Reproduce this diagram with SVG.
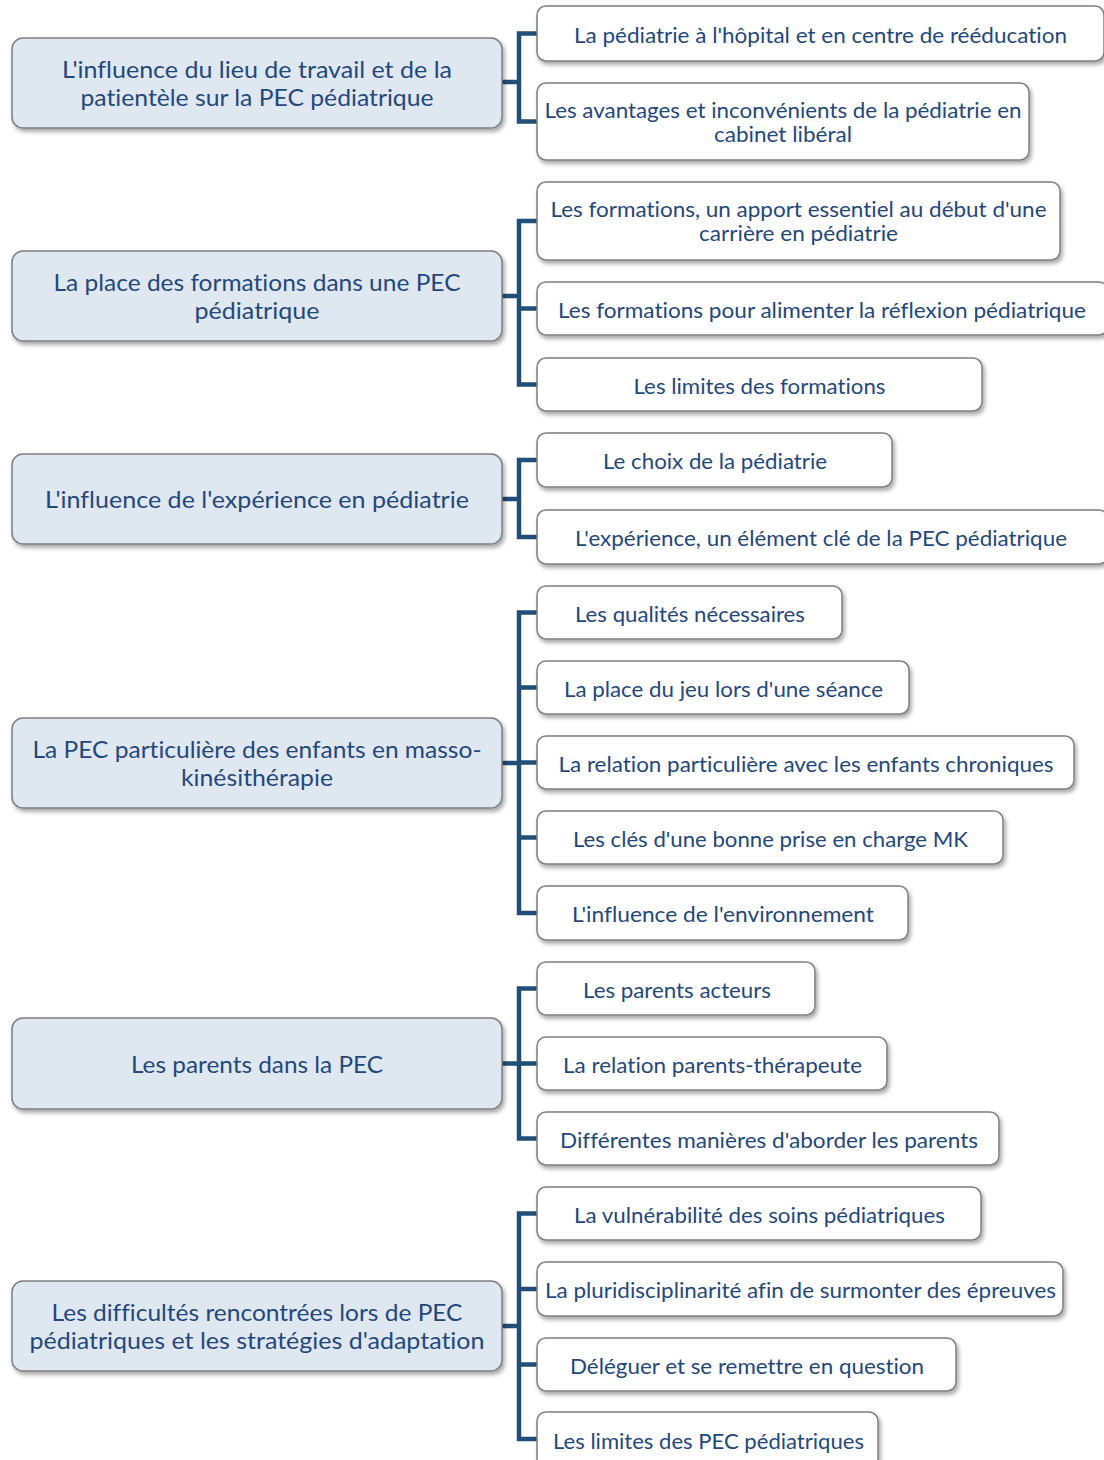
<svg xmlns="http://www.w3.org/2000/svg" width="1104" height="1460" viewBox="0 0 1104 1460">
<defs>
<filter id="sh" x="-5%" y="-20%" width="115%" height="150%">
<feDropShadow dx="2" dy="3" stdDeviation="2" flood-color="#000" flood-opacity="0.35"/>
</filter>
<style>
.p{fill:#dfe7f1;stroke:#7f7f7f;stroke-width:1.5;filter:url(#sh)}
.c{fill:#ffffff;stroke:#7f7f7f;stroke-width:1.5;filter:url(#sh)}
.tp{font-family:Lato,"Open Sans","Liberation Sans",sans-serif;font-size:23.5px;fill:#1f497d;text-anchor:middle;font-variant-ligatures:none}
.tc{font-family:Lato,"Open Sans","Liberation Sans",sans-serif;font-size:20.5px;fill:#1f497d;text-anchor:middle;font-variant-ligatures:none}
.k{fill:none;stroke:#1f4e79;stroke-width:4.5;stroke-linejoin:miter;stroke-linecap:butt}
</style>
</defs>
<rect width="1104" height="1460" fill="#ffffff"/>
<g id="connectors">
<path class="k" d="M502 82 H519 M537 33.5 H519 V121.5 H537"/>
<path class="k" d="M502 296 H519 M537 221 H519 V384.5 H537 M519 308.5 H537"/>
<path class="k" d="M502 499 H519 M537 460 H519 V537 H537"/>
<path class="k" d="M502 763 H519 M537 612.5 H519 V913 H537 M519 687.5 H537 M519 762.5 H537 M519 837.5 H537"/>
<path class="k" d="M502 1063.5 H519 M537 988.5 H519 V1138.5 H537 M519 1063.5 H537"/>
<path class="k" d="M502 1326 H519 M537 1213.5 H519 V1439 H537 M519 1289 H537 M519 1364.5 H537"/>
</g>
<g id="p1"><rect class="p" x="12" y="38" width="490" height="90" rx="11"/>
<text class="tp" x="257" y="78" textLength="390" lengthAdjust="spacingAndGlyphs">L'influence du lieu de travail et de la</text>
<text class="tp" x="257" y="106" textLength="353" lengthAdjust="spacingAndGlyphs">patientèle sur la PEC pédiatrique</text></g>
<g id="p2"><rect class="p" x="12" y="251" width="490" height="90" rx="11"/>
<text class="tp" x="257" y="291" textLength="407" lengthAdjust="spacingAndGlyphs">La place des formations dans une PEC</text>
<text class="tp" x="257" y="319" textLength="125" lengthAdjust="spacingAndGlyphs">pédiatrique</text></g>
<g id="p3"><rect class="p" x="12" y="454" width="490" height="90" rx="11"/>
<text class="tp" x="257" y="508" textLength="424" lengthAdjust="spacingAndGlyphs">L'influence de l'expérience en pédiatrie</text></g>
<g id="p4"><rect class="p" x="12" y="718" width="490" height="90" rx="11"/>
<text class="tp" x="257" y="758" textLength="449" lengthAdjust="spacingAndGlyphs">La PEC particulière des enfants en masso-</text>
<text class="tp" x="257" y="786" textLength="152" lengthAdjust="spacingAndGlyphs">kinésithérapie</text></g>
<g id="p5"><rect class="p" x="12" y="1018" width="490" height="91" rx="11"/>
<text class="tp" x="257" y="1073" textLength="252" lengthAdjust="spacingAndGlyphs">Les parents dans la PEC</text></g>
<g id="p6"><rect class="p" x="12" y="1281" width="490" height="90" rx="11"/>
<text class="tp" x="257" y="1321" textLength="411" lengthAdjust="spacingAndGlyphs">Les difficultés rencontrées lors de PEC</text>
<text class="tp" x="257" y="1349" textLength="455" lengthAdjust="spacingAndGlyphs">pédiatriques et les stratégies d'adaptation</text></g>

<g id="c1"><rect class="c" x="537" y="6" width="567" height="55" rx="9"/>
<text class="tc" x="820.5" y="42.5" textLength="493" lengthAdjust="spacingAndGlyphs">La pédiatrie à l'hôpital et en centre de rééducation</text></g>
<g id="c2"><rect class="c" x="537" y="83" width="492" height="77" rx="9"/>
<text class="tc" x="783" y="117.5" textLength="477" lengthAdjust="spacingAndGlyphs">Les avantages et inconvénients de la pédiatrie en</text>
<text class="tc" x="783" y="141.5" textLength="138" lengthAdjust="spacingAndGlyphs">cabinet libéral</text></g>
<g id="c3"><rect class="c" x="537" y="182" width="523" height="78" rx="9"/>
<text class="tc" x="798.5" y="217" textLength="496" lengthAdjust="spacingAndGlyphs">Les formations, un apport essentiel au début d'une</text>
<text class="tc" x="798.5" y="241" textLength="199" lengthAdjust="spacingAndGlyphs">carrière en pédiatrie</text></g>
<g id="c4"><rect class="c" x="537" y="282" width="571" height="53" rx="9"/>
<text class="tc" x="822" y="317.5" textLength="528" lengthAdjust="spacingAndGlyphs">Les formations pour alimenter la réflexion pédiatrique</text></g>
<g id="c5"><rect class="c" x="537" y="358" width="445" height="53" rx="9"/>
<text class="tc" x="759.5" y="393.5" textLength="252" lengthAdjust="spacingAndGlyphs">Les limites des formations</text></g>
<g id="c6"><rect class="c" x="537" y="433" width="355" height="54" rx="9"/>
<text class="tc" x="715" y="469" textLength="224" lengthAdjust="spacingAndGlyphs">Le choix de la pédiatrie</text></g>
<g id="c7"><rect class="c" x="537" y="510" width="571" height="54" rx="9"/>
<text class="tc" x="821" y="546" textLength="492" lengthAdjust="spacingAndGlyphs">L'expérience, un élément clé de la PEC pédiatrique</text></g>
<g id="c8"><rect class="c" x="537" y="586" width="305" height="53" rx="9"/>
<text class="tc" x="690" y="621.5" textLength="230" lengthAdjust="spacingAndGlyphs">Les qualités nécessaires</text></g>
<g id="c9"><rect class="c" x="537" y="661" width="372" height="53" rx="9"/>
<text class="tc" x="723.5" y="696.5" textLength="319" lengthAdjust="spacingAndGlyphs">La place du jeu lors d'une séance</text></g>
<g id="c10"><rect class="c" x="537" y="736" width="537" height="53" rx="9"/>
<text class="tc" x="806" y="771.5" textLength="495" lengthAdjust="spacingAndGlyphs">La relation particulière avec les enfants chroniques</text></g>
<g id="c11"><rect class="c" x="537" y="811" width="466" height="53" rx="9"/>
<text class="tc" x="770.5" y="846.5" textLength="395" lengthAdjust="spacingAndGlyphs">Les clés d'une bonne prise en charge MK</text></g>
<g id="c12"><rect class="c" x="537" y="886" width="371" height="54" rx="9"/>
<text class="tc" x="723" y="922" textLength="302" lengthAdjust="spacingAndGlyphs">L'influence de l'environnement</text></g>
<g id="c13"><rect class="c" x="537" y="962" width="278" height="53" rx="9"/>
<text class="tc" x="677" y="997.5" textLength="188" lengthAdjust="spacingAndGlyphs">Les parents acteurs</text></g>
<g id="c14"><rect class="c" x="537" y="1037" width="350" height="53" rx="9"/>
<text class="tc" x="712.5" y="1072.5" textLength="299" lengthAdjust="spacingAndGlyphs">La relation parents-thérapeute</text></g>
<g id="c15"><rect class="c" x="537" y="1112" width="462" height="53" rx="9"/>
<text class="tc" x="769" y="1147.5" textLength="418" lengthAdjust="spacingAndGlyphs">Différentes manières d'aborder les parents</text></g>
<g id="c16"><rect class="c" x="537" y="1187" width="444" height="53" rx="9"/>
<text class="tc" x="759.5" y="1222.5" textLength="371" lengthAdjust="spacingAndGlyphs">La vulnérabilité des soins pédiatriques</text></g>
<g id="c17"><rect class="c" x="537" y="1262" width="526" height="54" rx="9"/>
<text class="tc" x="800.5" y="1298" textLength="511" lengthAdjust="spacingAndGlyphs">La pluridisciplinarité afin de surmonter des épreuves</text></g>
<g id="c18"><rect class="c" x="537" y="1338" width="419" height="53" rx="9"/>
<text class="tc" x="747" y="1373.5" textLength="354" lengthAdjust="spacingAndGlyphs">Déléguer et se remettre en question</text></g>
<g id="c19"><rect class="c" x="537" y="1412" width="341" height="56" rx="9"/>
<text class="tc" x="708.5" y="1448.5" textLength="311" lengthAdjust="spacingAndGlyphs">Les limites des PEC pédiatriques</text></g>
</svg>
